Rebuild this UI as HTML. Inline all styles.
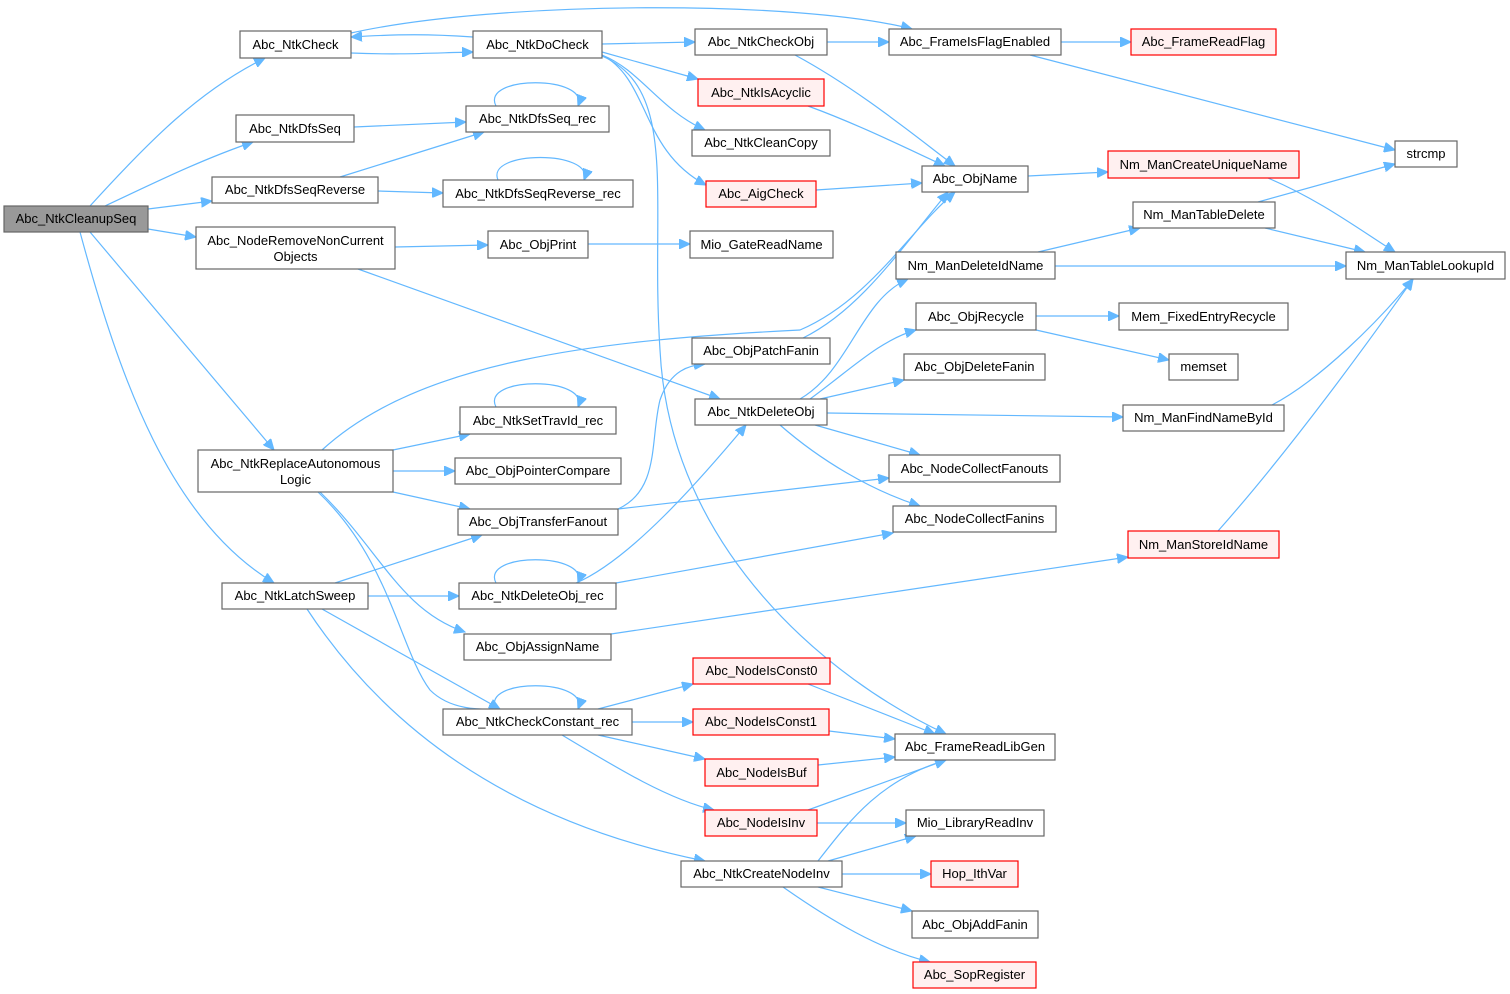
<!DOCTYPE html>
<html><head><meta charset="utf-8"><style>
html,body{margin:0;padding:0;background:#fff;}
svg{display:block;}
text{font-family:"Liberation Sans",Arial,sans-serif;font-size:13px;fill:#000;}
.n{fill:#fff;stroke:#666;stroke-width:1.2;}
.r{fill:#fff0f0;stroke:#ff0000;stroke-width:1.2;}
.g{fill:#999;stroke:#666;stroke-width:1.2;}
path.e{fill:none;stroke:#63b8ff;stroke-width:1.2;marker-end:url(#a);}
</style></head><body>
<svg width="1510" height="994" viewBox="0 0 1510 994" xmlns="http://www.w3.org/2000/svg">
<defs><marker id="a" markerUnits="userSpaceOnUse" markerWidth="12" markerHeight="10" refX="11" refY="5" orient="auto"><path d="M0,0 L11,5 L0,10 z" fill="#63b8ff" stroke="#63b8ff"/></marker></defs>
<g>
<path class="e" d="M90,206 C150,140 200,90 265,58"/>
<path class="e" d="M105,206 C150,185 200,160 253,142"/>
<path class="e" d="M148,209 L212,201"/>
<path class="e" d="M148,229 L196,237"/>
<path class="e" d="M90,232 L274,450"/>
<path class="e" d="M80,232 C120,380 170,520 274,583"/>
<path class="e" d="M351,53 C400,55 430,53 473,52"/>
<path class="e" d="M473,37 C430,34 400,34 351,37"/>
<path class="e" d="M351,33 C500,0 800,0 912,29"/>
<path class="e" d="M602,44 L695,42"/>
<path class="e" d="M602,52 L698,79"/>
<path class="e" d="M602,55 C640,70 660,110 705,130"/>
<path class="e" d="M602,55 C650,80 640,150 706,185"/>
<path class="e" d="M602,56 C680,90 650,200 660,350 C670,550 830,680 946,734"/>
<path class="e" d="M827,42 L889,42"/>
<path class="e" d="M795,55 C860,90 920,140 955,166"/>
<path class="e" d="M1061,42 L1131,42"/>
<path class="e" d="M1030,55 L1395,150"/>
<path class="e" d="M808,106 C860,125 910,150 945,166"/>
<path class="e" d="M816,190 L922,183"/>
<path class="e" d="M1028,176 L1108,172"/>
<path class="e" d="M1268,178 C1320,200 1360,230 1395,252"/>
<path class="e" d="M1258,202 L1395,164"/>
<path class="e" d="M1265,228 L1365,252"/>
<path class="e" d="M1038,252 L1140,228"/>
<path class="e" d="M1055,266 L1346,266"/>
<path class="e" d="M354,127 L466,122"/>
<path class="e" d="M496,106 C480,75 590,75 578,106"/>
<path class="e" d="M340,177 L484,132"/>
<path class="e" d="M378,191 L443,193"/>
<path class="e" d="M498,180 C485,150 595,150 584,180"/>
<path class="e" d="M395,247 L488,245"/>
<path class="e" d="M588,244 L690,244"/>
<path class="e" d="M358,269 L720,399"/>
<path class="e" d="M322,450 C420,360 600,340 800,330 C870,300 910,230 955,192"/>
<path class="e" d="M393,450 L470,434"/>
<path class="e" d="M393,471 L455,471"/>
<path class="e" d="M393,492 L470,509"/>
<path class="e" d="M320,492 C380,550 400,610 465,632"/>
<path class="e" d="M318,492 C390,560 400,650 430,690 C450,710 480,710 500,709"/>
<path class="e" d="M496,407 C480,376 590,376 578,407"/>
<path class="e" d="M618,509 C660,490 650,440 660,400 C670,370 690,365 705,364"/>
<path class="e" d="M618,509 L889,478"/>
<path class="e" d="M335,583 L482,535"/>
<path class="e" d="M368,596 L459,596"/>
<path class="e" d="M322,609 L500,709"/>
<path class="e" d="M307,609 C380,720 500,820 705,861"/>
<path class="e" d="M496,583 C480,552 590,552 578,583"/>
<path class="e" d="M576,583 C630,560 700,480 746,425"/>
<path class="e" d="M616,583 L893,533"/>
<path class="e" d="M803,338 C860,310 900,250 948,192"/>
<path class="e" d="M800,399 C850,370 860,300 908,279"/>
<path class="e" d="M810,399 C850,370 880,340 916,330"/>
<path class="e" d="M820,399 L904,380"/>
<path class="e" d="M827,413 L1123,417"/>
<path class="e" d="M815,425 L920,455"/>
<path class="e" d="M780,425 C820,460 870,490 920,506"/>
<path class="e" d="M1036,316 L1119,316"/>
<path class="e" d="M1036,330 L1169,360"/>
<path class="e" d="M1272,405 C1320,380 1380,320 1413,279"/>
<path class="e" d="M1218,531 C1290,450 1370,340 1413,279"/>
<path class="e" d="M611,634 L1128,557"/>
<path class="e" d="M496,709 C480,678 590,678 578,709"/>
<path class="e" d="M598,709 L693,684"/>
<path class="e" d="M632,722 L693,722"/>
<path class="e" d="M598,735 L705,759"/>
<path class="e" d="M562,735 C620,770 670,800 714,810"/>
<path class="e" d="M808,684 L935,734"/>
<path class="e" d="M829,731 L895,739"/>
<path class="e" d="M818,765 L895,757"/>
<path class="e" d="M808,810 L946,760"/>
<path class="e" d="M817,823 L906,823"/>
<path class="e" d="M818,861 C850,820 880,780 946,760"/>
<path class="e" d="M828,861 L916,836"/>
<path class="e" d="M842,874 L931,874"/>
<path class="e" d="M818,887 L912,911"/>
<path class="e" d="M783,887 C830,920 880,950 930,962"/>
</g>
<g text-anchor="middle">
<rect class="g" x="4" y="206" width="144" height="26"/><text x="76" y="223">Abc_NtkCleanupSeq</text>
<rect class="n" x="240" y="31" width="111" height="27"/><text x="295.5" y="49">Abc_NtkCheck</text>
<rect class="n" x="473" y="31" width="129" height="27"/><text x="537.5" y="49">Abc_NtkDoCheck</text>
<rect class="n" x="236" y="115" width="118" height="27"/><text x="295" y="133">Abc_NtkDfsSeq</text>
<rect class="n" x="466" y="106" width="143" height="26"/><text x="537.5" y="123">Abc_NtkDfsSeq_rec</text>
<rect class="n" x="212" y="177" width="166" height="26"/><text x="295" y="194">Abc_NtkDfsSeqReverse</text>
<rect class="n" x="443" y="180" width="190" height="27"/><text x="538" y="198">Abc_NtkDfsSeqReverse_rec</text>
<rect class="n" x="196" y="227" width="199" height="42"/><text x="295.5" y="245">Abc_NodeRemoveNonCurrent</text><text x="295.5" y="261">Objects</text>
<rect class="n" x="488" y="231" width="100" height="27"/><text x="538" y="249">Abc_ObjPrint</text>
<rect class="n" x="690" y="231" width="143" height="27"/><text x="761.5" y="249">Mio_GateReadName</text>
<rect class="n" x="695" y="29" width="132" height="26"/><text x="761" y="46">Abc_NtkCheckObj</text>
<rect class="n" x="889" y="29" width="172" height="26"/><text x="975" y="46">Abc_FrameIsFlagEnabled</text>
<rect class="r" x="1131" y="29" width="145" height="26"/><text x="1203.5" y="46">Abc_FrameReadFlag</text>
<rect class="r" x="698" y="79" width="126" height="27"/><text x="761" y="97">Abc_NtkIsAcyclic</text>
<rect class="n" x="692" y="130" width="138" height="26"/><text x="761" y="147">Abc_NtkCleanCopy</text>
<rect class="r" x="706" y="181" width="110" height="26"/><text x="761" y="198">Abc_AigCheck</text>
<rect class="n" x="922" y="166" width="106" height="26"/><text x="975" y="183">Abc_ObjName</text>
<rect class="r" x="1108" y="151" width="191" height="27"/><text x="1203.5" y="169">Nm_ManCreateUniqueName</text>
<rect class="n" x="1395" y="141" width="62" height="26"/><text x="1426" y="158">strcmp</text>
<rect class="n" x="1133" y="202" width="142" height="26"/><text x="1204" y="219">Nm_ManTableDelete</text>
<rect class="n" x="896" y="252" width="159" height="27"/><text x="975.5" y="270">Nm_ManDeleteIdName</text>
<rect class="n" x="1346" y="252" width="159" height="27"/><text x="1425.5" y="270">Nm_ManTableLookupId</text>
<rect class="n" x="916" y="303" width="120" height="27"/><text x="976" y="321">Abc_ObjRecycle</text>
<rect class="n" x="1119" y="303" width="169" height="27"/><text x="1203.5" y="321">Mem_FixedEntryRecycle</text>
<rect class="n" x="1169" y="354" width="69" height="26"/><text x="1203.5" y="371">memset</text>
<rect class="n" x="904" y="354" width="141" height="26"/><text x="974.5" y="371">Abc_ObjDeleteFanin</text>
<rect class="n" x="692" y="338" width="138" height="26"/><text x="761" y="355">Abc_ObjPatchFanin</text>
<rect class="n" x="695" y="399" width="132" height="26"/><text x="761" y="416">Abc_NtkDeleteObj</text>
<rect class="n" x="1123" y="405" width="161" height="26"/><text x="1203.5" y="422">Nm_ManFindNameById</text>
<rect class="n" x="889" y="455" width="171" height="27"/><text x="974.5" y="473">Abc_NodeCollectFanouts</text>
<rect class="n" x="893" y="506" width="163" height="26"/><text x="974.5" y="523">Abc_NodeCollectFanins</text>
<rect class="r" x="1128" y="531" width="151" height="27"/><text x="1203.5" y="549">Nm_ManStoreIdName</text>
<rect class="n" x="460" y="407" width="156" height="27"/><text x="538" y="425">Abc_NtkSetTravId_rec</text>
<rect class="n" x="198" y="450" width="195" height="42"/><text x="295.5" y="468">Abc_NtkReplaceAutonomous</text><text x="295.5" y="484">Logic</text>
<rect class="n" x="455" y="458" width="166" height="26"/><text x="538" y="475">Abc_ObjPointerCompare</text>
<rect class="n" x="458" y="509" width="160" height="26"/><text x="538" y="526">Abc_ObjTransferFanout</text>
<rect class="n" x="222" y="583" width="146" height="26"/><text x="295" y="600">Abc_NtkLatchSweep</text>
<rect class="n" x="459" y="583" width="157" height="26"/><text x="537.5" y="600">Abc_NtkDeleteObj_rec</text>
<rect class="n" x="464" y="634" width="147" height="26"/><text x="537.5" y="651">Abc_ObjAssignName</text>
<rect class="n" x="443" y="709" width="189" height="26"/><text x="537.5" y="726">Abc_NtkCheckConstant_rec</text>
<rect class="r" x="693" y="658" width="137" height="26"/><text x="761.5" y="675">Abc_NodeIsConst0</text>
<rect class="r" x="693" y="709" width="136" height="26"/><text x="761" y="726">Abc_NodeIsConst1</text>
<rect class="r" x="705" y="759" width="113" height="27"/><text x="761.5" y="777">Abc_NodeIsBuf</text>
<rect class="r" x="705" y="810" width="112" height="26"/><text x="761" y="827">Abc_NodeIsInv</text>
<rect class="n" x="895" y="734" width="160" height="26"/><text x="975" y="751">Abc_FrameReadLibGen</text>
<rect class="n" x="906" y="810" width="138" height="26"/><text x="975" y="827">Mio_LibraryReadInv</text>
<rect class="n" x="681" y="861" width="161" height="26"/><text x="761.5" y="878">Abc_NtkCreateNodeInv</text>
<rect class="r" x="931" y="861" width="87" height="26"/><text x="974.5" y="878">Hop_IthVar</text>
<rect class="n" x="912" y="911" width="126" height="27"/><text x="975" y="929">Abc_ObjAddFanin</text>
<rect class="r" x="913" y="962" width="123" height="26"/><text x="974.5" y="979">Abc_SopRegister</text>
</g>
</svg>
</body></html>
